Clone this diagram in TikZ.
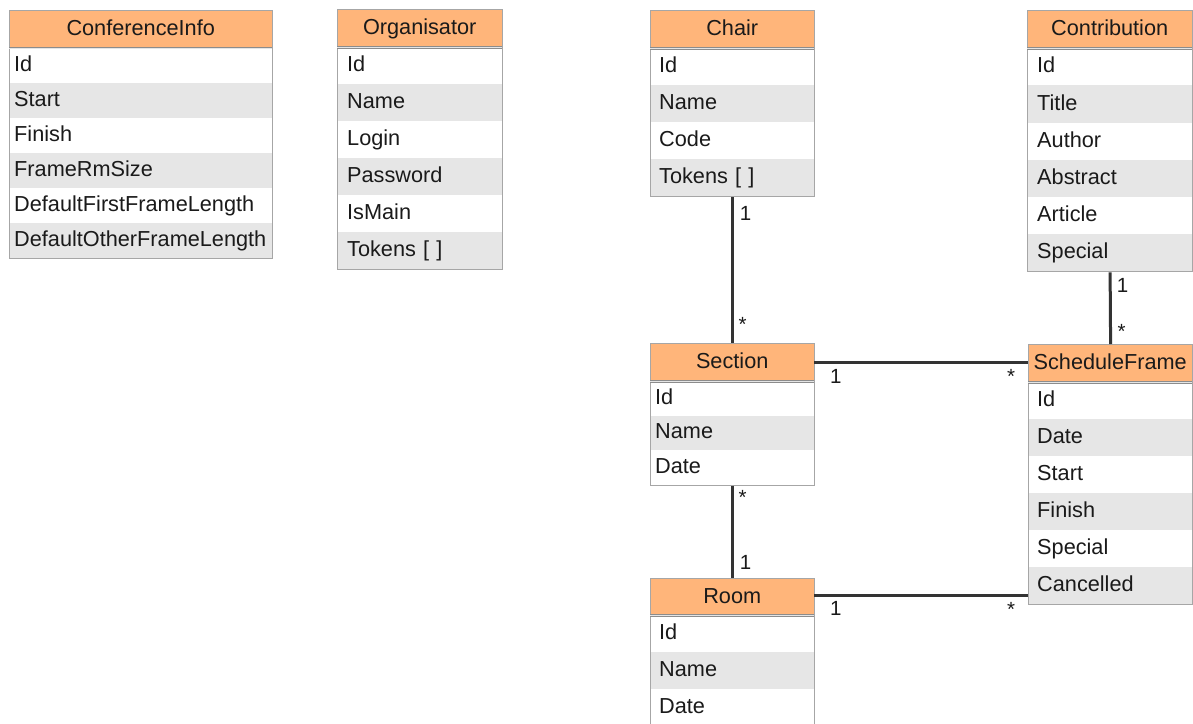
\documentclass[tikz,border=0pt]{standalone}
\usepackage{fontspec}
\setmainfont{Liberation Sans}

\definecolor{hdrfill}{HTML}{FFB57A}
\definecolor{rowgray}{HTML}{E6E6E6}
\definecolor{boxline}{HTML}{A6A6A6}
\definecolor{sepcol}{HTML}{8C8C8C}
\definecolor{wirecol}{HTML}{333333}
\definecolor{ink}{HTML}{1A1A1A}

\tikzset{
  hdr/.style={fill=hdrfill, draw=none, inner sep=0pt, anchor=north west,
    text=ink, font=\fontsize{21.7}{26}\selectfont, align=center,
    text height=18pt, text depth=4.5pt},
  cell/.style={draw=none, inner ysep=0pt, anchor=north west, text=ink,
    font=\fontsize{21.7}{26}\selectfont, align=left,
    text height=17.5pt, text depth=5.5pt},
  frame/.style={draw=boxline, line width=1.2pt, fill=none, inner sep=0pt,
    anchor=north west},
  hdrsep/.style={draw=sepcol, line width=0.9pt, double=white!80!gray,
    double distance=0.7pt},
  assoc/.style={draw=wirecol, line width=3pt},
  mult/.style={font=\fontsize{20.5}{24}\selectfont, text=ink, inner sep=0pt,
    anchor=base},
}

% #1 name, #2 left, #3 top, #4 width, #5 title height, #6 row height,
% #7 text inset, #8 title, #9 attributes
\newcommand{\umlclass}[9]{%
  \node[hdr, minimum width=#4pt, text width=#4pt, minimum height=#5pt]
    (#1-title) at (#2,#3) {#8};
  \pgfmathsetmacro{\cellw}{#4-2*#7}%
  \foreach \attr [count=\k] in {#9} {%
    \pgfmathsetmacro{\celltop}{#3+#5+(\k-1)*#6}%
    \ifodd\k\relax\def\cellfill{white}\else\def\cellfill{rowgray}\fi
    \node[cell, fill=\cellfill, inner xsep=#7pt, text width=\cellw pt,
      minimum height=#6pt] (#1-\k) at (#2,\celltop) {\attr};
    \xdef\cellcount{\k}%
  }%
  \pgfmathsetmacro{\boxh}{#5+\cellcount*#6}%
  \node[frame, minimum width=#4pt, minimum height=\boxh pt] (#1) at (#2,#3) {};
  \draw[hdrsep] (#1-title.south west) -- (#1-title.south east);
}

\begin{document}
\begin{tikzpicture}[x=1pt,y=-1pt]
\clip (0,0) rectangle (1193,723);
\fill[white] (0,0) rectangle (1193,723);

\umlclass{info}{9}{10}{263}{37.5}{35}{5}{ConferenceInfo}%
  {Id,Start,Finish,FrameRmSize,DefaultFirstFrameLength,DefaultOtherFrameLength}
\umlclass{org}{337}{9}{165}{38}{37}{10}{Organisator}%
  {Id,Name,Login,Password,IsMain,Tokens [ ]}
\umlclass{chair}{650}{10}{164}{38}{37}{9}{Chair}%
  {Id,Name,Code,Tokens [ ]}
\umlclass{contrib}{1027}{10}{165}{38}{37.2}{10}{Contribution}%
  {Id,Title,Author,Abstract,Article,Special}
\umlclass{section}{650}{343}{164}{38}{34.5}{5}{Section}%
  {Id,Name,Date}
\umlclass{frame}{1028}{344}{164}{38}{37}{9}{ScheduleFrame}%
  {Id,Date,Start,Finish,Special,Cancelled}
\umlclass{room}{650}{578}{164}{37}{37}{9}{Room}%
  {Id,Name,Date}

% associations
\coordinate (secend) at (section-title.east -| frame.west);
\coordinate (roomstart) at ([yshift=1.5pt]room-title.east);
\coordinate (roomend) at (roomstart -| frame.west);
\draw[assoc] (chair.south) -- (section.north);
\draw[assoc] (contrib.south) -- (frame.north);
\draw[assoc] (section.south) -- (room.north);
\draw[assoc] (section-title.east) -- (secend);
\draw[assoc] (roomstart) -- (roomend);

% multiplicities
\node[mult] (m-chair)   at ([shift={(13,23)}]chair.south) {1};
\node[mult] (m-secup)   at ([shift={(10,-12)}]section.north) {*};
\node[mult] (m-contrib) at ([shift={(12.5,20)}]contrib.south) {1};
\node[mult] (m-frameup) at ([shift={(11,-6)}]frame.north) {*};
\node[mult] (m-secdown) at ([shift={(10,18.5)}]section.south) {*};
\node[mult] (m-room)    at ([shift={(13,-9)}]room.north) {1};
\node[mult] (m-secsf)   at ([shift={(21.5,21)}]section-title.east) {1};
\node[mult] (m-sfsec)   at ([shift={(-17,21)}]secend) {*};
\node[mult] (m-roomsf)  at ([shift={(21.5,20)}]roomstart) {1};
\node[mult] (m-sfroom)  at ([shift={(-17,21)}]roomend) {*};
\end{tikzpicture}
\end{document}
